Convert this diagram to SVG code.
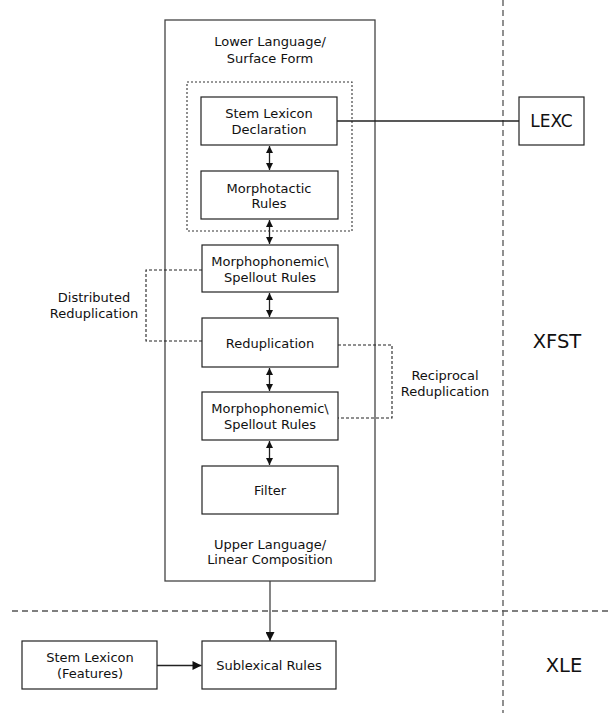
<svg xmlns="http://www.w3.org/2000/svg" width="608" height="713" viewBox="0 0 608 713">
<style>
text{font-family:"DejaVu Sans","Verdana",sans-serif;font-size:13px;fill:#111;text-anchor:middle}
.big{font-size:19.5px}
.lex{font-size:17px}
.box{fill:#fff;stroke:#222;stroke-width:1.2}
.outer{fill:#fff;stroke:#444;stroke-width:1.3}
.sep{stroke:#555;stroke-width:1.3;stroke-dasharray:6,4;fill:none}
.dot{stroke:#333;stroke-width:1.1;stroke-dasharray:2,2;fill:none}
.brk{stroke:#222;stroke-width:1.1;stroke-dasharray:3,2;fill:none}
.ln{stroke:#222;stroke-width:1.3;fill:none}
</style>
<defs>
<marker id="ah" viewBox="0 0 10 10" refX="10" refY="5" markerWidth="7" markerHeight="7" markerUnits="userSpaceOnUse" orient="auto-start-reverse"><path d="M0,0 L10,5 L0,10 z" fill="#111"/></marker>
<marker id="ahb" viewBox="0 0 10 10" refX="10" refY="5" markerWidth="10" markerHeight="9" markerUnits="userSpaceOnUse" orient="auto"><path d="M0,0 L10,5 L0,10 z" fill="#111"/></marker>
</defs>
<g id="separators">
<line class="sep" x1="503" y1="0" x2="503" y2="713"/>
<line class="sep" x1="12" y1="611" x2="608" y2="611"/>
</g>
<g id="xfst-container">
<rect class="outer" x="165" y="20" width="210" height="561"/>
<text x="270" y="46">Lower Language/</text>
<text x="270" y="63">Surface Form</text>
<text x="270" y="549">Upper Language/</text>
<text x="270" y="564">Linear Composition</text>
</g>
<g id="lexc-group">
<rect class="dot" x="187" y="82" width="165" height="149"/>
</g>
<g id="connectors">
<line class="ln" x1="337" y1="121" x2="519" y2="121"/>
<line class="ln" x1="269.5" y1="146" x2="269.5" y2="170" marker-start="url(#ah)" marker-end="url(#ah)"/>
<line class="ln" x1="269.5" y1="220" x2="269.5" y2="244" marker-start="url(#ah)" marker-end="url(#ah)"/>
<line class="ln" x1="269.5" y1="293" x2="269.5" y2="317" marker-start="url(#ah)" marker-end="url(#ah)"/>
<line class="ln" x1="269.5" y1="368" x2="269.5" y2="391" marker-start="url(#ah)" marker-end="url(#ah)"/>
<line class="ln" x1="269.5" y1="441" x2="269.5" y2="465" marker-start="url(#ah)" marker-end="url(#ah)"/>
<line x1="270" y1="581" x2="270" y2="641" stroke="#444" stroke-width="1.3" marker-end="url(#ahb)"/>
<line class="ln" x1="157" y1="665.5" x2="201.5" y2="665.5" marker-end="url(#ahb)"/>
<polyline class="brk" points="202,270 146,270 146,341 202,341"/>
<polyline class="brk" points="338,345 392,345 392,418 338,418"/>
</g>
<g id="stem-lexicon-declaration">
<rect class="box" x="201" y="97" width="136" height="48"/>
<text x="269" y="118">Stem Lexicon</text>
<text x="269" y="134">Declaration</text>
</g>
<g id="morphotactic-rules">
<rect class="box" x="201" y="171" width="137" height="48"/>
<text x="269" y="193">Morphotactic</text>
<text x="269" y="208">Rules</text>
</g>
<g id="morphophonemic-1">
<rect class="box" x="202" y="245" width="136" height="47"/>
<text x="270" y="266">Morphophonemic\</text>
<text x="270" y="282">Spellout Rules</text>
</g>
<g id="reduplication">
<rect class="box" x="202" y="318" width="136" height="49"/>
<text x="270" y="348">Reduplication</text>
</g>
<g id="morphophonemic-2">
<rect class="box" x="202" y="392" width="136" height="48"/>
<text x="270" y="413">Morphophonemic\</text>
<text x="270" y="429">Spellout Rules</text>
</g>
<g id="filter">
<rect class="box" x="202" y="466" width="136" height="48"/>
<text x="270" y="495">Filter</text>
</g>
<g id="distributed-label">
<text x="94" y="302">Distributed</text>
<text x="94" y="318">Reduplication</text>
</g>
<g id="reciprocal-label">
<text x="445" y="380">Reciprocal</text>
<text x="445" y="396">Reduplication</text>
</g>
<g id="lexc">
<rect class="box" x="519" y="97" width="65" height="48"/>
<text class="lex" x="551.5" y="127">LEXC</text>
</g>
<g id="xfst-label">
<text class="big" x="557" y="348">XFST</text>
</g>
<g id="xle-label">
<text class="big" x="564" y="672">XLE</text>
</g>
<g id="stem-lexicon-features">
<rect class="box" x="22" y="641" width="135" height="48"/>
<text x="90" y="662">Stem Lexicon</text>
<text x="90" y="678">(Features)</text>
</g>
<g id="sublexical-rules">
<rect class="box" x="202" y="641" width="134" height="48"/>
<text x="269" y="670">Sublexical Rules</text>
</g>
</svg>
